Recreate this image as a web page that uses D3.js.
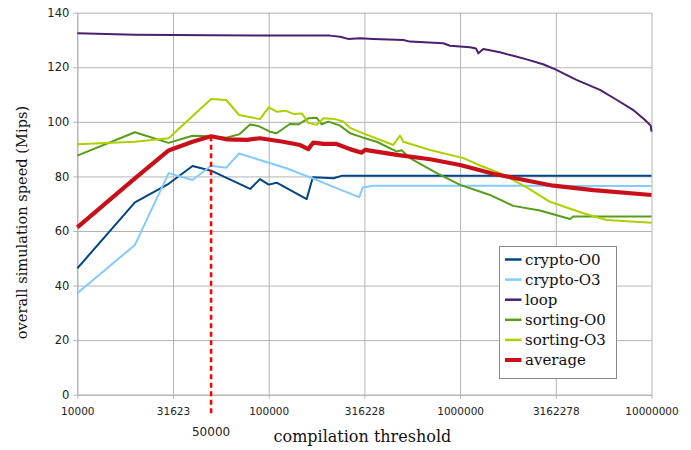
<!DOCTYPE html>
<html>
<head>
<meta charset="utf-8">
<script src="https://cdn.jsdelivr.net/npm/d3@7"></script>
<style>
  body { margin: 0; background: #fff; }
  .tick text { font-family: "DejaVu Sans", sans-serif; fill: #222; }
  .title { font-family: "DejaVu Serif", serif; fill: #111; }
</style>
</head>
<body>
<div id="chart"></div>
<script>
// series data: compilation threshold -> overall simulation speed (Mips)
const cryptoO0Thresholds = [10000, 20000, 30000, 40000, 50000, 80000, 90000, 100000, 110000, 158000, 170000, 218000, 240000, 10000000];
const cryptoO0Speed      = [46.3, 70.5, 77.3, 83.8, 82.1, 75.4, 79.0, 77.0, 77.7, 71.7, 79.7, 79.3, 80.2, 80.2];

const cryptoO3Thresholds = [10000, 20000, 30000, 40000, 50000, 60000, 70000, 100000, 124000, 164000, 226000, 297000, 310000, 352000, 10000000];
const cryptoO3Speed      = [37.2, 54.9, 81.2, 78.7, 83.9, 83.2, 88.4, 85.0, 83.0, 79.7, 75.7, 72.4, 75.9, 76.6, 76.5];

const loopThresholds = [10000, 20000, 50000, 100000, 209000, 236000, 260000, 300000, 352000, 505000, 547000, 817000, 885000, 1127000, 1211000, 1245000, 1322000, 1614000, 1896000, 2228000, 2712000, 3126000, 4055000, 5381000, 6600000, 8000000, 9250000, 9900000, 10000000];
const loopSpeed      = [132.5, 131.9, 131.7, 131.6, 131.6, 131.2, 130.4, 130.6, 130.4, 130.0, 129.4, 128.8, 127.9, 127.3, 126.9, 125.1, 126.7, 125.5, 124.2, 122.9, 121.1, 119.3, 115.4, 111.7, 108.0, 104.4, 100.7, 98.6, 96.4];

const sortingO0Thresholds = [10000, 20000, 30000, 40000, 50000, 60000, 70000, 80000, 88000, 101600, 110000, 129000, 143000, 161000, 178000, 189000, 205000, 236000, 266000, 312000, 367000, 467000, 495000, 547000, 755000, 1000000, 1432000, 1896000, 2613000, 3752000, 3902000, 10000000];
const sortingO0Speed      = [87.6, 96.2, 92.3, 94.9, 94.7, 94.2, 95.4, 99.0, 98.5, 96.4, 95.8, 99.2, 99.1, 101.3, 101.5, 99.1, 100.1, 98.6, 95.8, 94.2, 92.7, 89.1, 89.6, 86.7, 81.2, 76.9, 73.2, 69.2, 67.5, 64.4, 65.3, 65.3];

const sortingO3Thresholds = [10000, 20000, 30000, 50000, 60000, 70000, 90000, 100000, 110000, 122000, 134500, 149000, 161000, 178000, 193000, 222000, 245000, 266000, 312000, 448000, 485000, 505000, 697000, 1040000, 1271000, 1614000, 2228000, 2949000, 4402000, 5833000, 10000000];
const sortingO3Speed      = [91.8, 92.7, 94.0, 108.4, 108.0, 102.5, 101.0, 105.3, 103.7, 104.1, 102.9, 103.1, 99.7, 98.9, 101.3, 101.0, 100.1, 97.8, 95.8, 91.5, 95.0, 92.7, 89.7, 86.7, 84.0, 81.2, 76.0, 70.7, 66.5, 64.0, 63.0];

const averageThresholds = [10000, 20000, 30000, 40000, 50000, 60000, 77000, 90000, 119000, 146000, 161000, 171000, 193000, 226000, 266000, 306000, 319000, 467000, 697000, 1000000, 1490000, 2228000, 3069000, 4967000, 10000000];
const averageSpeed      = [61.3, 79.3, 89.5, 92.7, 94.7, 93.6, 93.4, 94.0, 92.7, 91.5, 90.0, 92.4, 91.9, 91.9, 90.0, 88.7, 89.7, 87.9, 86.3, 84.2, 81.0, 78.5, 76.6, 75.0, 73.2];

const seriesNames  = ['crypto-O0', 'crypto-O3', 'loop', 'sorting-O0', 'sorting-O3', 'average'];
const seriesColors = ['#004586', '#83caff', '#4b1f6f', '#579d1c', '#aecf00', '#c9101a'];

const xTickValues = [10000, 31623, 100000, 316228, 1000000, 3162278, 10000000];
const yTickValues = [0, 20, 40, 60, 80, 100, 120, 140];
const markerThreshold = 50000;

const allSeries = [
  [cryptoO0Thresholds, cryptoO0Speed],
  [cryptoO3Thresholds, cryptoO3Speed],
  [loopThresholds, loopSpeed],
  [sortingO0Thresholds, sortingO0Speed],
  [sortingO3Thresholds, sortingO3Speed],
  [averageThresholds, averageSpeed]
].map(([t, v], i) => ({
  name: seriesNames[i],
  color: seriesColors[i],
  width: seriesNames[i] === 'average' ? 4.2 : 2,
  points: t.map((d, j) => ({ t: d, v: v[j] }))
}));

const width = 691;
const height = 450;
const margin = { top: 12.7, right: 39.5, bottom: 55.3, left: 77.3 };
const innerW = width - margin.left - margin.right;
const innerH = height - margin.top - margin.bottom;

const svg = d3.select('#chart')
  .append('svg')
  .attr('width', width)
  .attr('height', height);

const g = svg.append('g')
  .attr('transform', `translate(${margin.left},${margin.top})`);

const x = d3.scaleLog().domain([10000, 10000000]).range([0, innerW]);
const y = d3.scaleLinear().domain([0, 140]).range([innerH, 0]);

const gridColor = '#b3b3b3';

// grid
g.append('g')
  .attr('class', 'grid')
  .call(d3.axisLeft(y).tickValues(yTickValues).tickSize(-innerW).tickFormat(''))
  .call(s => s.select('.domain').remove())
  .call(s => s.selectAll('line').attr('stroke', gridColor));

g.append('g')
  .attr('class', 'grid')
  .attr('transform', `translate(0,${innerH})`)
  .call(d3.axisBottom(x).tickValues(xTickValues).tickSize(-innerH).tickFormat(''))
  .call(s => s.select('.domain').remove())
  .call(s => s.selectAll('line').attr('stroke', gridColor));

// axes
g.append('g')
  .call(d3.axisLeft(y).tickValues(yTickValues).tickSizeInner(4).tickSizeOuter(0).tickPadding(4))
  .call(s => s.select('.domain').attr('stroke', gridColor))
  .call(s => s.selectAll('.tick line').attr('stroke', gridColor))
  .call(s => s.selectAll('.tick text').style('font-size', '11.5px'));

g.append('g')
  .attr('transform', `translate(0,${innerH})`)
  .call(d3.axisBottom(x).tickValues(xTickValues).tickFormat(d3.format('d')).tickSizeInner(4).tickSizeOuter(0).tickPadding(9))
  .call(s => s.select('.domain').attr('stroke', gridColor))
  .call(s => s.selectAll('.tick line').attr('stroke', gridColor))
  .call(s => s.selectAll('.tick text').style('font-size', '10.5px'));

// series lines
const line = d3.line()
  .x(d => x(d.t))
  .y(d => y(d.v));

g.selectAll('.series')
  .data(allSeries)
  .enter()
  .append('path')
  .attr('class', 'series')
  .attr('fill', 'none')
  .attr('stroke', d => d.color)
  .attr('stroke-width', d => d.width)
  .attr('stroke-linejoin', 'round')
  .attr('d', d => line(d.points));

// marker at 50000
const avgAtMarker = averageSpeed[averageThresholds.indexOf(markerThreshold)];
g.append('line')
  .attr('x1', x(markerThreshold))
  .attr('x2', x(markerThreshold))
  .attr('y1', y(avgAtMarker))
  .attr('y2', innerH + 22)
  .attr('stroke', '#ff0000')
  .attr('stroke-width', 2.5)
  .attr('stroke-dasharray', '5,3.5');

g.append('text')
  .attr('x', x(markerThreshold))
  .attr('y', innerH + 41.5)
  .attr('text-anchor', 'middle')
  .style('font-family', '"DejaVu Sans", sans-serif')
  .style('font-size', '12px')
  .attr('fill', '#222')
  .text(markerThreshold);

// axis titles
svg.append('text')
  .attr('class', 'title')
  .attr('x', margin.left + innerW / 2 - 2)
  .attr('y', 442)
  .attr('text-anchor', 'middle')
  .style('font-size', '16px')
  .text('compilation threshold');

svg.append('text')
  .attr('class', 'title')
  .attr('transform', 'translate(27,222.5) rotate(-90)')
  .attr('text-anchor', 'middle')
  .style('font-size', '14.6px')
  .text('overall simulation speed (Mips)');

// legend
const legend = svg.append('g')
  .attr('transform', 'translate(499.5,246.5)');

legend.append('rect')
  .attr('width', 117)
  .attr('height', 132)
  .attr('fill', '#fff')
  .attr('stroke', '#8a8a8a');

const items = legend.selectAll('.item')
  .data(allSeries)
  .enter()
  .append('g')
  .attr('class', 'item')
  .attr('transform', (d, i) => `translate(0,${13 + i * 20.1})`);

items.append('line')
  .attr('x1', 5.5)
  .attr('x2', 22)
  .attr('stroke', d => d.color)
  .attr('stroke-width', d => d.name === 'average' ? 4 : 2.5);

items.append('text')
  .attr('class', 'title')
  .attr('x', 25.5)
  .attr('dy', '0.35em')
  .style('font-size', '15px')
  .text(d => d.name);
</script>
</body>
</html>
